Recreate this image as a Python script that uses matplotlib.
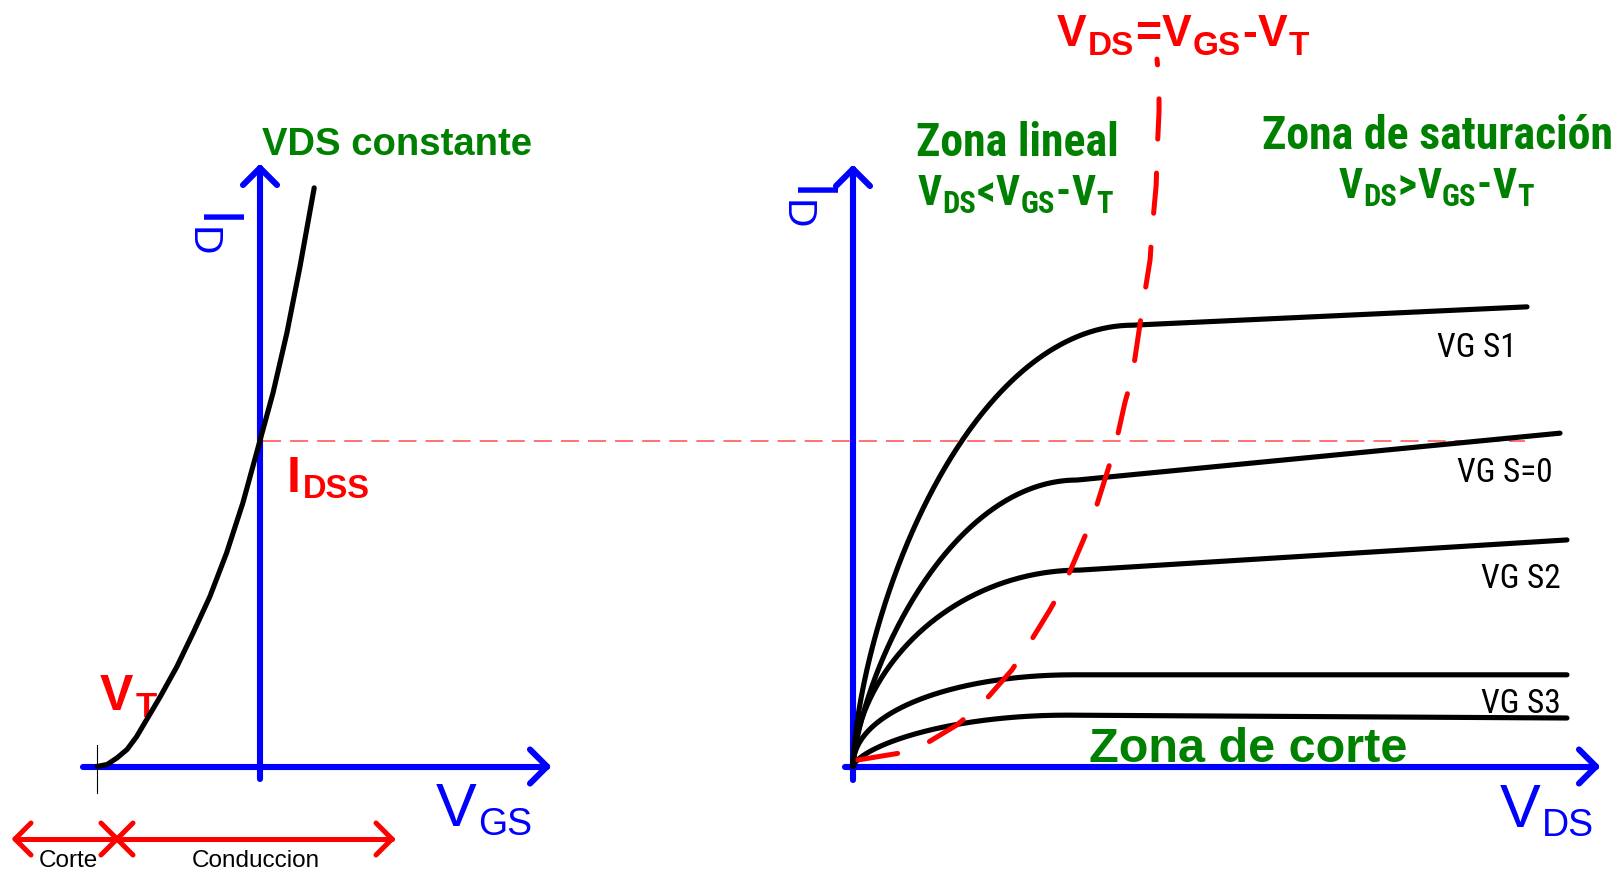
import matplotlib
matplotlib.use("Agg")
import matplotlib.pyplot as plt
import numpy as np
from matplotlib import font_manager as fm
from matplotlib.transforms import blended_transform_factory

# ---------------------------------------------------------------- data
# Transfer characteristic (I_D vs V_GS at constant V_DS), in V and mA
VT = -4.0
IDSS = 8.0
vgs_transfer = [-4.00, -3.75, -3.51, -3.26, -3.03, -2.45, -2.04, -1.64, -1.23,
                -0.82, -0.42, 0.00, 0.32, 0.66, 0.98, 1.33]
id_transfer = [0.00, 0.05, 0.21, 0.42, 0.73, 1.71, 2.45, 3.28, 4.17,
               5.24, 6.47, 8.00, 9.17, 10.64, 12.26, 14.20]

# Output characteristics (I_D vs V_DS), one entry per gate voltage
vds_knee = [6.87, 5.50, 5.57, 5.40, 5.25]
id_knee = [10.83, 7.03, 4.82, 2.25, 1.26]
vds_end = [16.54, 17.35, 17.52, 17.52, 17.52]
id_end = [11.28, 8.18, 5.56, 2.25, 1.19]
bend = [0.65, 0.70, 0.55, 0.47, 0.65]

# Boundary V_DS = V_GS - V_T between linear and saturation regions
vds_locus = [0.12, 1.15, 1.82, 2.55, 3.19, 3.90, 4.29, 4.83, 5.20, 5.62, 5.89,
             6.23, 6.43, 6.67, 6.85, 7.12, 7.29, 7.34, 7.44, 7.46, 7.51, 7.51, 7.46]
id_locus = [0.16, 0.33, 0.58, 1.02, 1.56, 2.37, 2.96, 3.84, 4.50, 5.48, 6.12,
            7.20, 7.84, 8.92, 9.56, 11.37, 12.43, 13.17, 14.27, 15.01, 16.06, 16.80, 17.36]

curve_labels = ["VG S1", "VG S=0", "VG S2", "VG S3"]

# ---------------------------------------------------------------- setup
W, H, DPI = 1619, 875, 100
plt.rcParams["lines.scale_dashes"] = False

available = {f.name for f in fm.fontManager.ttflist}


def pick(*names):
    for n in names:
        if n in available:
            return n
    return "Liberation Sans"


SANS = pick("Liberation Sans", "Arial")
NARROW = pick("Liberation Sans Narrow", "Arial Narrow", "Roboto Condensed",
              "Open Sans Condensed", "DejaVu Sans Condensed", "Liberation Sans")

BLUE, RED, GREEN, BLACK = "#0000ff", "#ff0000", "#008000", "#000000"

fig = plt.figure(figsize=(W / DPI, H / DPI), dpi=DPI)
fig.patch.set_facecolor("white")

# pixel canvas for the drawing frame and labels
ax = fig.add_axes([0, 0, 1, 1])
ax.set_xlim(0, W)
ax.set_ylim(H, 0)
ax.axis("off")

# both panels share the current scale; origins of the two panels in pixels
PX = 40.75
X0_T, X0_O, Y0 = 260.0, 853.0, 766.5


def panel(x0):
    a = fig.add_axes([0, 0, 1, 1], facecolor="none")
    a.set_xlim(-x0 / PX, (W - x0) / PX)
    a.set_ylim(-(H - Y0) / PX, Y0 / PX)
    a.axis("off")
    return a


ax_t = panel(X0_T)
ax_o = panel(X0_O)

renderer = fig.canvas.get_renderer()


def arrow(x0, y0, x1, y1, color, lw, head=17, both=False, z=2):
    ax.plot([x0, x1], [y0, y1], color=color, lw=lw, solid_capstyle="round", zorder=z)
    ends = [(x1, y1, x0, y0)] + ([(x0, y0, x1, y1)] if both else [])
    for tx, ty, sx, sy in ends:
        d = np.array([tx - sx, ty - sy], float)
        d /= np.hypot(*d)
        n = np.array([-d[1], d[0]])
        for s in (1, -1):
            p = np.array([tx, ty]) - head * d + s * head * n
            ax.plot([p[0], tx], [p[1], ty], color=color, lw=lw,
                    solid_capstyle="round", solid_joinstyle="miter", zorder=z)


def rich(x, y, runs, color, family, weight="normal", gap=2.0):
    """Baseline-aligned text made of runs (text, size_pt, drop_px)."""
    cur = x
    for s, size, drop in runs:
        t = ax.text(cur, y + drop, s, fontsize=size, color=color, family=family,
                    fontweight=weight, ha="left", va="baseline", zorder=6)
        cur += t.get_window_extent(renderer).width + gap


AX_LW = 4.4
CURVE_LW = 3.7

# ---------------------------------------------------------------- left panel
arrow(83, Y0, 547, Y0, BLUE, AX_LW)
arrow(X0_T, 779, X0_T, 168, BLUE, AX_LW)
ax_t.plot([VT, VT], [-0.65, 0.53], color=BLACK, lw=0.8, zorder=3)
ax_t.plot(vgs_transfer, id_transfer, color=BLACK, lw=CURVE_LW,
          solid_capstyle="round", solid_joinstyle="round", zorder=3)

# I_DSS reference line carried across to the output characteristics
blend = blended_transform_factory(ax.transData, ax_t.transData)
ax.plot([263, 1525], [IDSS, IDSS], transform=blend, color=RED, alpha=0.7,
        lw=1.1, dashes=(13, 6.5), zorder=5)

rich(287, 492, [("I", 36, 0), ("DSS", 23.5, 6)], RED, SANS, "bold", gap=1.5)
rich(100, 710, [("V", 36, 0), ("T", 25, 7)], RED, SANS, "bold")
rich(436, 826, [("V", 44, 0), ("GS", 27, 9)], BLUE, SANS, gap=1.0)
ax.text(203, 207, r"$\mathregular{I_D}$", rotation=-90, rotation_mode="anchor",
        ha="left", va="baseline", fontsize=42, color=BLUE, family=SANS)
ax.text(262, 155, "VDS constante", fontsize=27.5, fontweight="bold",
        color=GREEN, family=SANS, ha="left", va="baseline")

# cut-off / conduction ranges
arrow(15, 839, 392, 839, RED, 3.6, head=16, both=True)
for s in (1, -1):
    ax.plot([101, 133], [839 - 16 * s, 839 + 16 * s], color=RED, lw=3.6,
            solid_capstyle="round", zorder=2)
ax.text(39, 867, "Corte", fontsize=17.5, color=BLACK, family=SANS,
        ha="left", va="baseline")
ax.text(192, 867, "Conduccion", fontsize=17.5, color=BLACK, family=SANS,
        ha="left", va="baseline")

# ---------------------------------------------------------------- right panel
arrow(845, Y0, 1596, Y0, BLUE, AX_LW)
arrow(X0_O, 780, X0_O, 169, BLUE, AX_LW)

for vk, ik, ve, ie, q in zip(vds_knee, id_knee, vds_end, id_end, bend):
    t = np.linspace(0, 1, 200) ** 1.5
    vds = np.append(vk * t, ve)
    ids = np.append(ik * (1 - (1 - t) ** 2) ** q, ie)
    ax_o.plot(vds, ids, color=BLACK, lw=CURVE_LW, solid_capstyle="round",
              solid_joinstyle="round", zorder=3)

ax_o.plot(vds_locus, id_locus, color=RED, lw=3.6, dashes=(29, 24.5),
          dash_capstyle="round", zorder=4)

label_right = [1517, 1553, 1561, 1561]
label_base = [357, 482, 588, 713]
for txt, xr, yb in zip(curve_labels, label_right, label_base):
    ax.text(xr, yb, txt, fontsize=24, color=BLACK, family=NARROW,
            ha="right", va="baseline")

rich(1500, 827, [("V", 44, 0), ("DS", 27, 9)], BLUE, SANS, gap=1.0)
ax.text(797, 180, r"$\mathregular{I_D}$", rotation=-90, rotation_mode="anchor",
        ha="left", va="baseline", fontsize=42, color=BLUE, family=SANS)

rich(1057, 46, [("V", 32, 0), ("DS", 24, 9), ("=", 32, 0), ("V", 32, 0),
                ("GS", 24, 9), ("-", 32, 0), ("V", 32, 0), ("T", 24, 9)],
     RED, SANS, "bold", gap=1.0)

ax.text(916, 156, "Zona lineal", fontsize=33, fontweight="bold", color=GREEN,
        family=NARROW, ha="left", va="baseline")
green_formula = [("V", 30, 0), ("DS", 22, 8), ("<", 30, 0), ("V", 30, 0),
                 ("GS", 22, 8), ("-", 30, 0), ("V", 30, 0), ("T", 22, 8)]
rich(918, 205, green_formula, GREEN, NARROW, "bold", gap=0.5)
ax.text(1262, 149, "Zona de saturación", fontsize=33, fontweight="bold",
        color=GREEN, family=NARROW, ha="left", va="baseline")
rich(1339, 198, [(s if s != "<" else ">", f, d) for s, f, d in green_formula],
     GREEN, NARROW, "bold", gap=0.5)
ax.text(1089, 762, "Zona de corte", fontsize=35, fontweight="bold", color=GREEN,
        family=SANS, ha="left", va="baseline", zorder=6)

fig.savefig("out.png", dpi=DPI, facecolor="white")
